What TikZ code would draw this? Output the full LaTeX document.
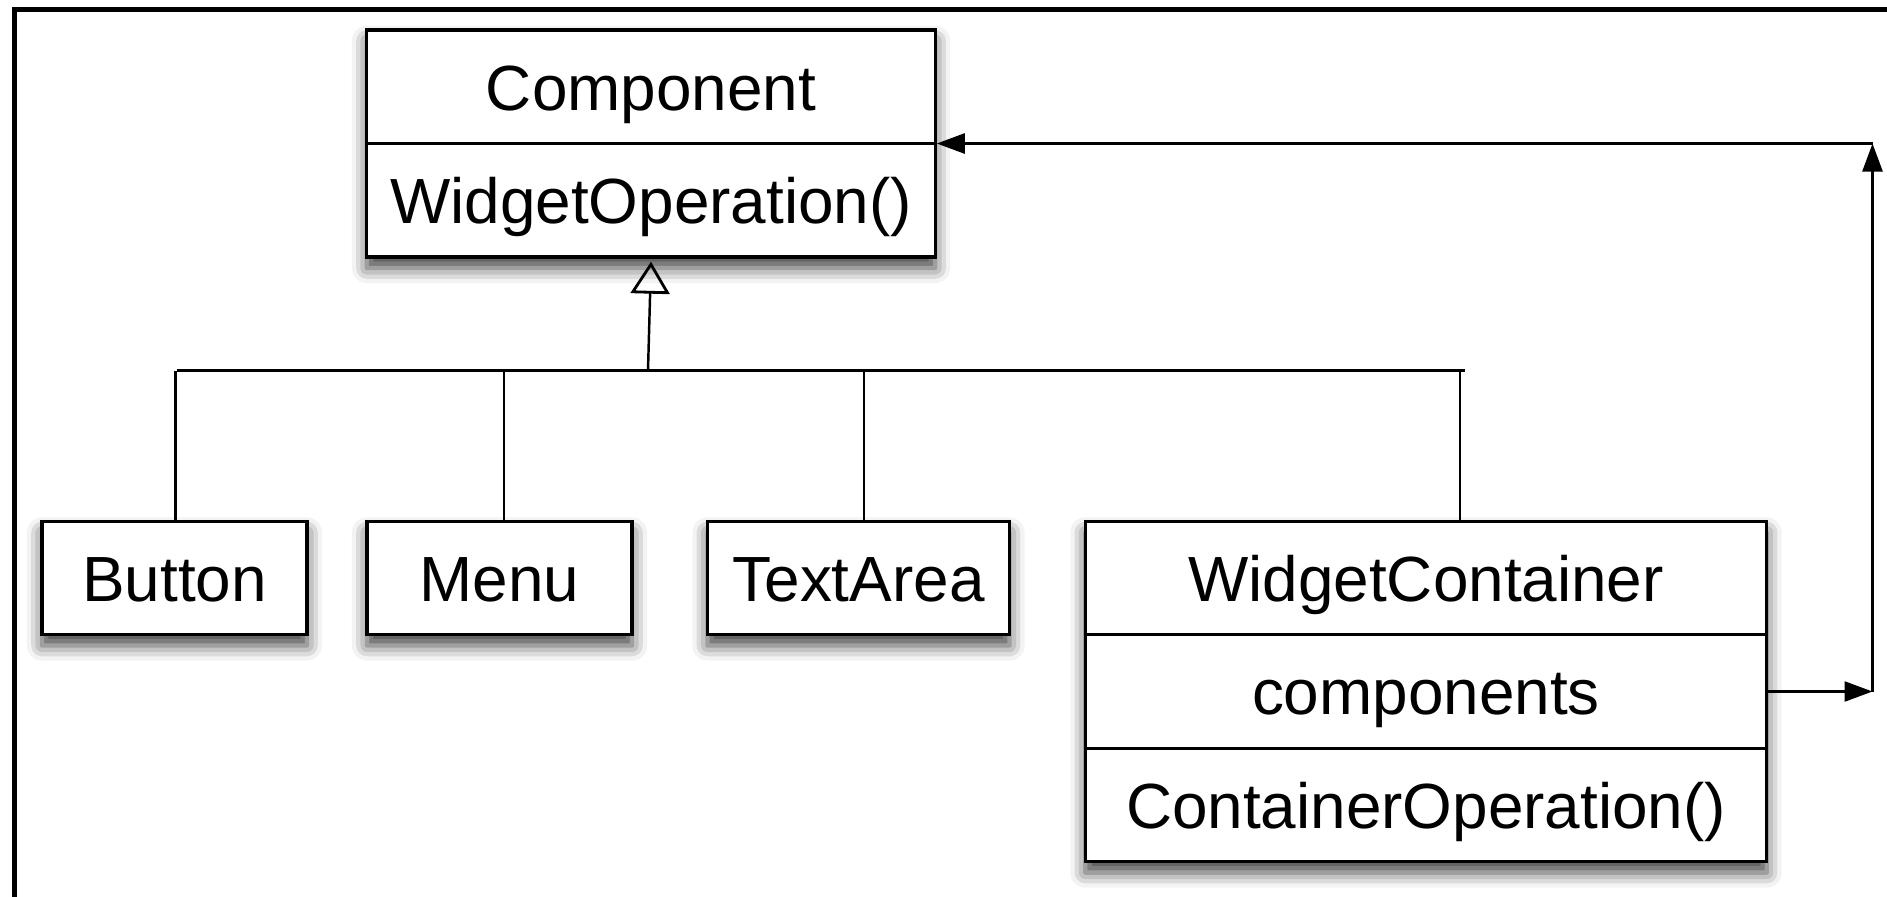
\documentclass[tikz,border=0pt]{standalone}
\usepackage{fontspec}
\setmainfont{Liberation Sans}
\usetikzlibrary{arrows.meta,shadows.blur,calc}
\begin{document}
\begin{tikzpicture}[x=0.01cm,y=-0.01cm,
  box/.style={draw,line width=0.9pt,fill=white,inner sep=0pt,
    blur shadow={shadow xshift=0pt,shadow yshift=-0.11cm,
                 shadow blur radius=0.15cm,shadow opacity=75}},
  txt/.style={inner sep=0pt,anchor=base,font=\fontsize{18.16}{22}\selectfont},
  link/.style={line width=0.7pt},
  sep/.style={line width=0.9pt},
  tip/.style={-{Triangle[length=0.28cm,width=0.2cm]}},
  gen/.style={-{Triangle[open,length=0.32cm,width=0.39cm,line width=0.8pt]}}
]
\clip (0,0) rectangle (1887,896);
\useasboundingbox (0,0) rectangle (1887,896);

% outer frame (only top and left edges fall inside the page)
\draw[line width=1.6pt] (14.5,1000) -- (14.5,9.5) -- (2000,9.5);

% classes
\node[box,minimum width=5.68cm,minimum height=2.27cm] (comp) at (651,143.5) {};
\node[txt] (compname) at (651,110) {Component};
\node[txt] (compop) at (651,223.5) {WidgetOperation()};
\draw[sep] (comp.west) -- (comp.east);

\node[box,minimum width=2.65cm,minimum height=1.13cm] (button) at (174.5,578) {};
\node[txt] (buttonname) at (174.5,601) {Button};

\node[box,minimum width=2.65cm,minimum height=1.13cm] (menu) at (499.5,578) {};
\node[txt] (menuname) at (499.5,601) {Menu};

\node[box,minimum width=3.02cm,minimum height=1.13cm] (textarea) at (858.5,578) {};
\node[txt] (textareaname) at (858.5,601) {TextArea};

\node[box,minimum width=6.81cm,minimum height=3.40cm] (wc) at (1426,691.5) {};
\node[txt] (wcname) at (1426,601) {WidgetContainer};
\node[txt] (wcattr) at (1426,714.5) {components};
\node[txt] (wcop) at (1426,828.5) {ContainerOperation()};
\draw[sep] (wc.west |- 0,634.5) -- (wc.east |- 0,634.5);
\draw[sep] (wc.west |- 0,748.5) -- (wc.east |- 0,748.5);

% inheritance tree
\coordinate (hl) at (177,370.5);
\coordinate (hr) at (1465,370.5);
\coordinate (genbase) at (648,370.5);
\draw[link] (hl) -- (hr);
\draw[link,gen] (genbase) -- ([yshift=-0.03cm]comp.south);
\draw[link] ([xshift=0.01cm]button.north) -- ([xshift=0.01cm]button.north |- hl);
\draw[link] ([xshift=0.045cm]menu.north) -- ([xshift=0.045cm]menu.north |- hl);
\draw[link] ([xshift=0.055cm]textarea.north) -- ([xshift=0.055cm]textarea.north |- hl);
\draw[link] ([xshift=0.34cm]wc.north) -- ([xshift=0.34cm]wc.north |- hl);

% aggregation reference back to Component
\coordinate (cornerlow) at (1872.5,691.5);
\coordinate (cornerhigh) at (1872.5,143.5);
\draw[link,tip] (wc.east) -- (cornerlow);
\draw[link,tip] (cornerlow) -- (cornerhigh);
\draw[link,tip] (cornerhigh) -- (comp.east);
\end{tikzpicture}
\end{document}
